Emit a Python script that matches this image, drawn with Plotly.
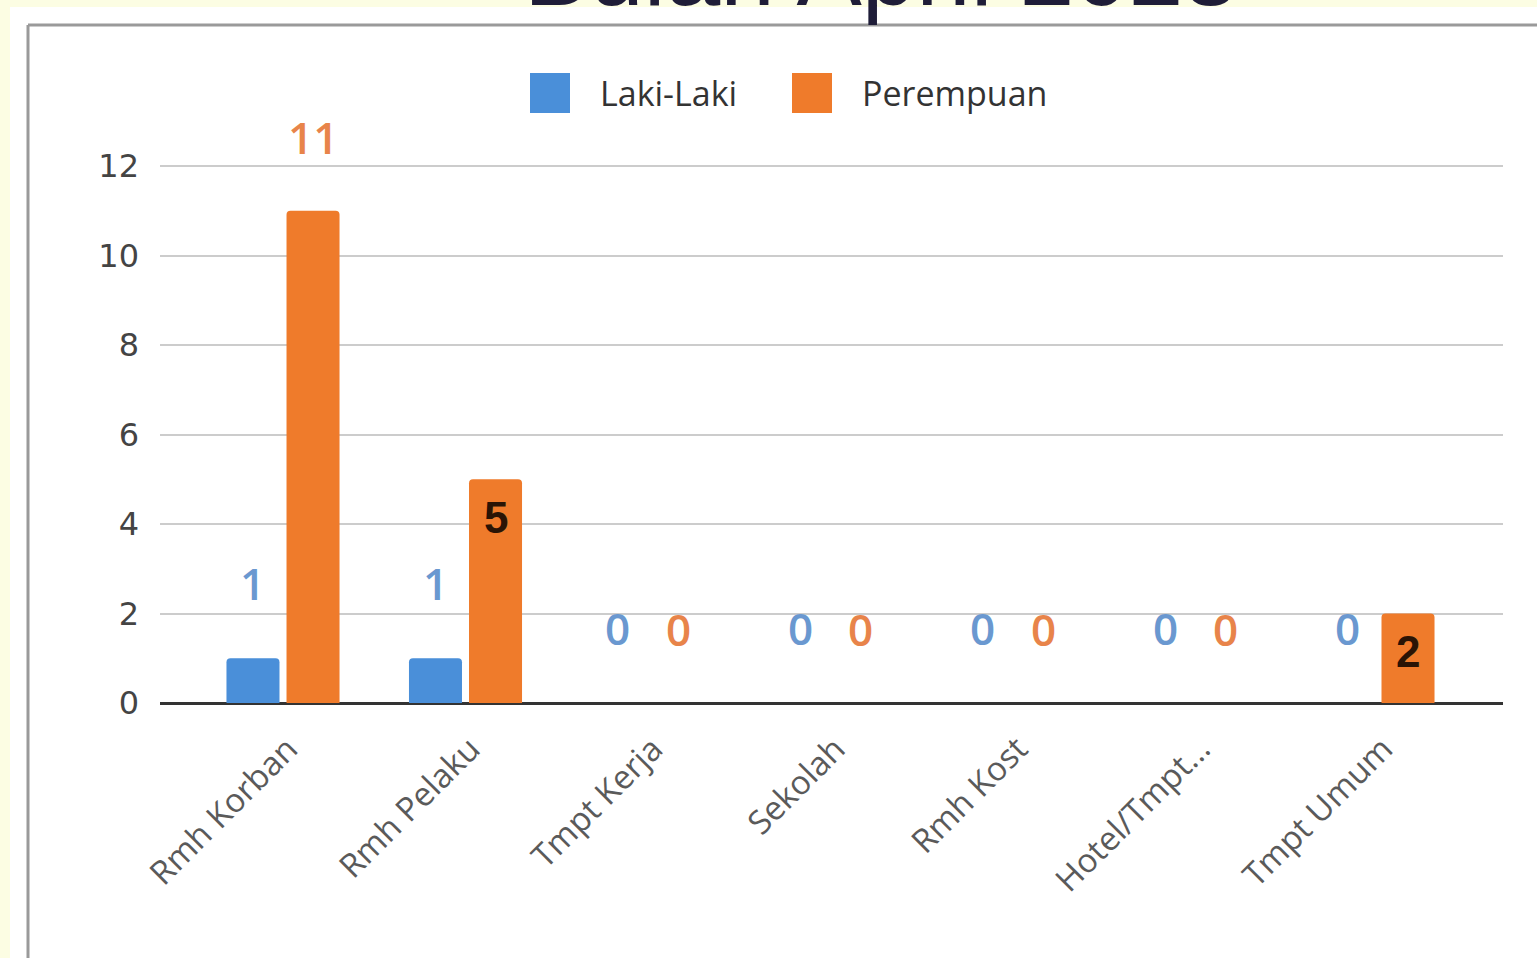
import plotly.graph_objects as go

# ---------------- data ----------------
categories = ["Rmh Korban", "Rmh Pelaku", "Tmpt Kerja", "Sekolah", "Rmh Kost", "Hotel/Tmpt...", "Tmpt Umum"]
series_names = ["Laki-Laki", "Perempuan"]
laki_laki = [1, 1, 0, 0, 0, 0, 0]
perempuan = [11, 5, 0, 0, 0, 0, 2]
y_ticks = [0, 2, 4, 6, 8, 10, 12]
title_text = "Bulan April 2023"

# ---------------- style ----------------
W, H = 1537, 958
ML, MR, MT, MB = 160, 34, 164, 255
PW, PH = W - ML - MR, H - MT - MB
BLUE, ORANGE = "#4a8fd9", "#ef7b2b"
BLUE_LBL, ORANGE_LBL = "#6a98d0", "#e8844a"
orange_label_inside = [False, True, False, False, False, False, True]
BARGAP = 0.342
BARGROUPGAP = 0.117
Y_TOP = 12.045


def xp(px):
    return (px - ML) / PW


def yp(py):
    return (H - MB - py) / PH


fig = go.Figure()
fig.add_trace(go.Bar(x=list(range(len(categories))), y=laki_laki, name=series_names[0],
                     marker=dict(color=BLUE, cornerradius=4, line=dict(width=0))))
fig.add_trace(go.Bar(x=list(range(len(categories))), y=perempuan, name=series_names[1],
                     marker=dict(color=ORANGE, cornerradius=4, line=dict(width=0))))

off = (1 - BARGAP) / 4
annotations = []
for i in range(len(categories)):
    annotations.append(dict(x=i - off, y=laki_laki[i], xref="x", yref="y", text=str(laki_laki[i]),
                            showarrow=False, yanchor="middle", yshift=75,
                            font=dict(family="Open Sans", size=44, color=BLUE_LBL, weight=600)))
    if orange_label_inside[i]:
        annotations.append(dict(x=i + off, y=perempuan[i], xref="x", yref="y", text=str(perempuan[i]),
                                showarrow=False, yanchor="middle", yshift=-38,
                                font=dict(family="Liberation Sans", size=44, color="#2a1405", weight="bold")))
    else:
        annotations.append(dict(x=i + off, y=perempuan[i], xref="x", yref="y", text=str(perempuan[i]),
                                showarrow=False, yanchor="middle", yshift=74,
                                font=dict(family="Open Sans", size=44, color=ORANGE_LBL, weight=600)))

# custom legend
legend_items = [(series_names[0], BLUE, 530, 598), (series_names[1], ORANGE, 792, 860)]
shapes = [
    # spreadsheet white area
    dict(type="rect", xref="paper", yref="paper", x0=xp(10), x1=xp(W + 5), y0=yp(H + 5), y1=yp(7),
         fillcolor="white", line=dict(width=0), layer="below"),
    # chart frame border
    dict(type="line", xref="paper", yref="paper", x0=xp(28), x1=xp(28), y0=yp(H + 5), y1=yp(25),
         line=dict(color="#9a9a9a", width=3), layer="below"),
    dict(type="line", xref="paper", yref="paper", x0=xp(28), x1=xp(W + 5), y0=yp(25), y1=yp(25),
         line=dict(color="#9a9a9a", width=3), layer="below"),
]
for name, col, sx, tx in legend_items:
    shapes.append(dict(type="rect", xref="paper", yref="paper", x0=xp(sx), x1=xp(sx + 40),
                       y0=yp(113), y1=yp(73), fillcolor=col, line=dict(width=0)))
    annotations.append(dict(x=xp(tx), y=yp(93), xref="paper", yref="paper", text=name, showarrow=False,
                            xanchor="left", yanchor="middle",
                            font=dict(family="Open Sans", size=34, color="#333333")))

annotations.append(dict(x=xp(881), y=yp(28), xref="paper", yref="paper", text=title_text, showarrow=False,
                        xanchor="center", yanchor="bottom",
                        font=dict(family="Liberation Sans", size=98, color="#1f1d38")))

fig.update_layout(
    width=W, height=H,
    margin=dict(l=ML, r=MR, t=MT, b=MB, pad=0),
    paper_bgcolor="#fcfde3",
    plot_bgcolor="rgba(0,0,0,0)",
    barmode="group", bargap=BARGAP, bargroupgap=BARGROUPGAP,
    showlegend=False,
    shapes=shapes,
    annotations=annotations,
    xaxis=dict(type="linear", range=[-0.674, 6.685], tickmode="array",
               tickvals=list(range(len(categories))), ticktext=categories,
               tickangle=-45, showgrid=False, zeroline=False, showline=False,
               ticklabelstandoff=19, ticklabelshift=5,
               tickfont=dict(family="Open Sans", size=33, color="#5a5a5a")),
    yaxis=dict(range=[0, Y_TOP], tickmode="array", tickvals=y_ticks, showgrid=True,
               gridcolor="#cccccc", gridwidth=2, zeroline=True, zerolinecolor="#333333",
               zerolinewidth=3, showline=False, ticklabelstandoff=20,
               tickfont=dict(family="DejaVu Sans", size=32, color="#444444")),
)

fig.write_html("out.html", config={"displayModeBar": False},
               post_script="document.body.style.margin='0';")
